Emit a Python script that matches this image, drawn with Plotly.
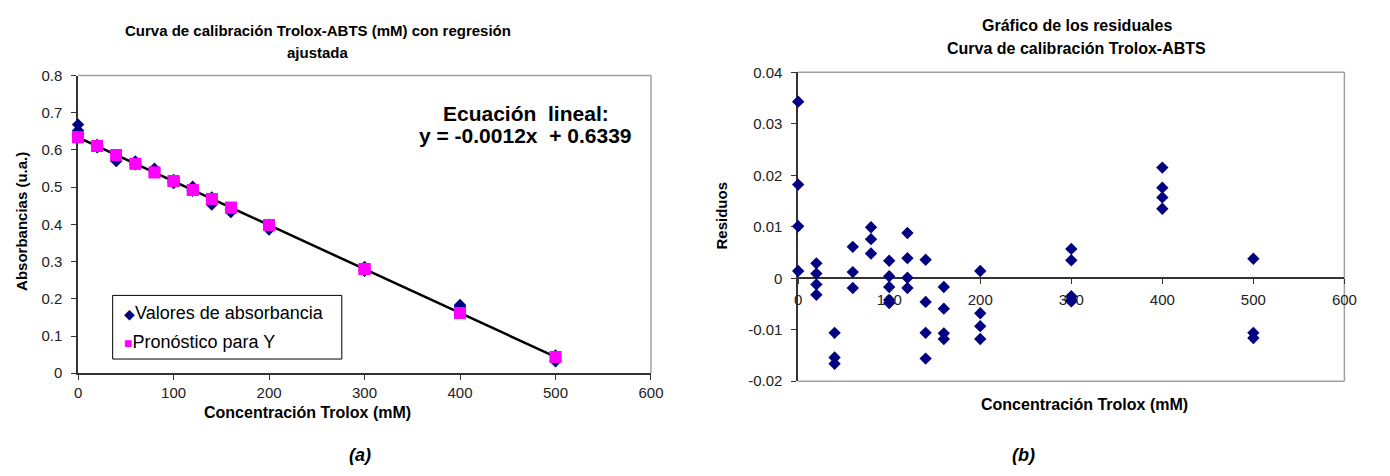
import plotly.graph_objects as go

# Calibration data: Trolox concentration (mM) and measured absorbance (u.a.)
concentracion = [0, 0, 0, 0,
                 20, 20, 20, 20,
                 40, 40, 40,
                 60, 60, 60,
                 80, 80, 80,
                 100, 100, 100, 100, 100,
                 120, 120, 120, 120,
                 140, 140, 140, 140,
                 160, 160, 160, 160,
                 200, 200, 200, 200,
                 300, 300, 300, 300, 300,
                 400, 400, 400, 400,
                 500, 500, 500]
absorbancia = [0.6682, 0.6521, 0.6440, 0.6353,
               0.6132, 0.6112, 0.6091, 0.6071,
               0.5761, 0.5713, 0.5701,
               0.5692, 0.5643, 0.5612,
               0.5494, 0.5471, 0.5443,
               0.5193, 0.5163, 0.5142, 0.5117, 0.5111,
               0.5011, 0.4962, 0.4924, 0.4904,
               0.4723, 0.4641, 0.4581, 0.4531,
               0.4434, 0.4392, 0.4344, 0.4333,
               0.3993, 0.3911, 0.3886, 0.3861,
               0.2856, 0.2834, 0.2764, 0.2757, 0.2754,
               0.1834, 0.1795, 0.1776, 0.1754,
               0.0477, 0.0333, 0.0323]

# Fitted regression line
pendiente = -0.00118
intercepto = 0.6339

pronostico = [intercepto + pendiente * c for c in concentracion]
residuos = [a - p for a, p in zip(absorbancia, pronostico)]
linea_x = [min(concentracion), max(concentracion)]
linea_y = [intercepto + pendiente * c for c in linea_x]

FONT = "Liberation Sans, Arial, sans-serif"
NAVY = "#000080"
MAGENTA = "#FF00FF"
AXIS = "#333333"
BORDER = "#A0A0A0"
W, H = 1390, 476


def px(x):
    return x / W


def py(y):
    return 1 - y / H


dom_a_x = [px(75), px(655)]
dom_a_y = [py(377.7), py(69)]
dom_b_x = [px(804), px(1357)]
dom_b_y = [py(386), py(65.7)]
cero_b = dom_b_y[0] + (dom_b_y[1] - dom_b_y[0]) / 3

fig = go.Figure()

# (a) calibration curve
fig.add_trace(go.Scatter(x=linea_x, y=linea_y, mode="lines",
                         line=dict(color="black", width=2.5),
                         xaxis="x", yaxis="y", showlegend=False))
fig.add_trace(go.Scatter(x=concentracion, y=absorbancia, mode="markers",
                         marker=dict(symbol="diamond", color=NAVY, size=9.5),
                         xaxis="x", yaxis="y", name="Valores de absorbancia",
                         cliponaxis=False, showlegend=False))
fig.add_trace(go.Scatter(x=concentracion, y=pronostico, mode="markers",
                         marker=dict(symbol="square", color=MAGENTA, size=11.5),
                         xaxis="x", yaxis="y", name="Pronóstico para Y",
                         cliponaxis=False, showlegend=False))

# (b) residual plot
fig.add_trace(go.Scatter(x=concentracion, y=residuos, mode="markers",
                         marker=dict(symbol="diamond", color=NAVY, size=9.5),
                         xaxis="x2", yaxis="y2", cliponaxis=False,
                         showlegend=False))

tick_font = dict(family=FONT, size=15, color="#222222")
axis_common = dict(showgrid=False, zeroline=False, showline=True,
                   linecolor=AXIS, linewidth=1.5, ticks="outside",
                   ticklen=5, tickcolor=AXIS, tickwidth=1.2,
                   tickfont=tick_font, layer="below traces")
inner_ticks = dict(showgrid=False, zeroline=False, showline=False,
                   ticks="inside", ticklen=4, tickcolor=AXIS, tickwidth=1.2,
                   showticklabels=False, layer="below traces")

res_ticks = [-0.02, -0.01, 0, 0.01, 0.02, 0.03, 0.04]
res_text = ["%g" % v for v in res_ticks]
abs_ticks = [i / 10 for i in range(9)]
conc_ticks = list(range(0, 601, 100))

fig.update_layout(
    width=W, height=H,
    margin=dict(l=0, r=0, t=0, b=0),
    paper_bgcolor="white", plot_bgcolor="white",
    font=dict(family=FONT, color="#222222"),
    xaxis=dict(domain=dom_a_x, anchor="y", range=[0, 600],
               tickvals=conc_ticks, **axis_common),
    yaxis=dict(domain=dom_a_y, anchor="x", range=[0, 0.8],
               tickvals=abs_ticks, ticktext=["%g" % v for v in abs_ticks],
               ticklabelstandoff=6, **axis_common),
    xaxis3=dict(overlaying="x", anchor="y", range=[0, 600],
                tickvals=conc_ticks, **inner_ticks),
    yaxis3=dict(overlaying="y", anchor="x", range=[0, 0.8],
                tickvals=abs_ticks, **inner_ticks),
    xaxis2=dict(domain=dom_b_x, anchor="free", position=cero_b,
                range=[0, 600], tickvals=conc_ticks, ticklabelstandoff=3,
                **axis_common),
    yaxis2=dict(domain=dom_b_y, anchor="x2", range=[-0.02, 0.04],
                tickvals=res_ticks, ticktext=res_text, ticklabelstandoff=6,
                **axis_common),
    xaxis4=dict(overlaying="x2", anchor="free", position=cero_b,
                range=[0, 600], tickvals=conc_ticks, **inner_ticks),
    yaxis4=dict(overlaying="y2", anchor="x2", range=[-0.02, 0.04],
                tickvals=res_ticks, **inner_ticks),
)

# Plot-area frames (top/right for both, bottom for residuals)
for xr, yr in (("x domain", "y domain"), ("x2 domain", "y2 domain")):
    fig.add_shape(type="line", xref=xr, yref=yr, x0=0, x1=1, y0=1, y1=1,
                  line=dict(color=BORDER, width=1.5), layer="below")
    fig.add_shape(type="line", xref=xr, yref=yr, x0=1, x1=1, y0=0, y1=1,
                  line=dict(color=BORDER, width=1.5), layer="below")
fig.add_shape(type="line", xref="x2 domain", yref="y2 domain",
              x0=0, x1=1, y0=0, y1=0, line=dict(color=BORDER, width=1.5),
              layer="below")

# Legend box for the calibration panel
fig.add_shape(type="rect", xref="paper", yref="paper",
              x0=px(110), x1=px(342), y0=py(363), y1=py(297),
              line=dict(color="black", width=1), fillcolor="white")
fig.add_annotation(x=px(119), y=py(315), xref="paper", yref="paper",
                   xanchor="left", yanchor="middle", showarrow=False,
                   text=f"<span style='color:{NAVY};font-size:14px'>\u25C6</span>Valores de absorbancia",
                   font=dict(family=FONT, size=18, color="black"))
fig.add_annotation(x=px(119), y=py(345), xref="paper", yref="paper",
                   xanchor="left", yanchor="middle", showarrow=False,
                   text=f"<span style='color:{MAGENTA};font-size:14px'>\u25A0</span>Pronóstico para Y",
                   font=dict(family=FONT, size=18, color="black"))


def texto(x, y, s, size, bold=True, italic=False, angle=0):
    if bold:
        s = f"<b>{s}</b>"
    if italic:
        s = f"<i>{s}</i>"
    fig.add_annotation(x=px(x), y=py(y), xref="paper", yref="paper",
                       xanchor="center", yanchor="middle", showarrow=False,
                       text=s, textangle=angle,
                       font=dict(family=FONT, size=size, color="black"))


# Titles
texto(318, 22, "Curva de calibración Trolox-ABTS (mM) con regresión", 15)
texto(318, 45, "ajustada", 15)
texto(1086, 17, "Gráfico de los residuales", 16)
texto(1086, 41, "Curva de calibración Trolox-ABTS", 16)

# Regression equation
texto(528, 108, "Ecuación  lineal:", 21)
texto(528, 131, f"y = {pendiente:.4f}x  + {intercepto:.4f}", 21)

# Axis titles
texto(307, 418, "Concentración Trolox (mM)", 16)
texto(1094, 410, "Concentración Trolox (mM)", 16)
texto(17, 220, "Absorbancias (u.a.)", 15, angle=-90)
texto(726, 214, "Residuos", 15, angle=-90)

# Panel captions
texto(360, 462, "(a)", 18, italic=True)
texto(1032, 462, "(b)", 18, italic=True)

fig.write_html("out.html")
